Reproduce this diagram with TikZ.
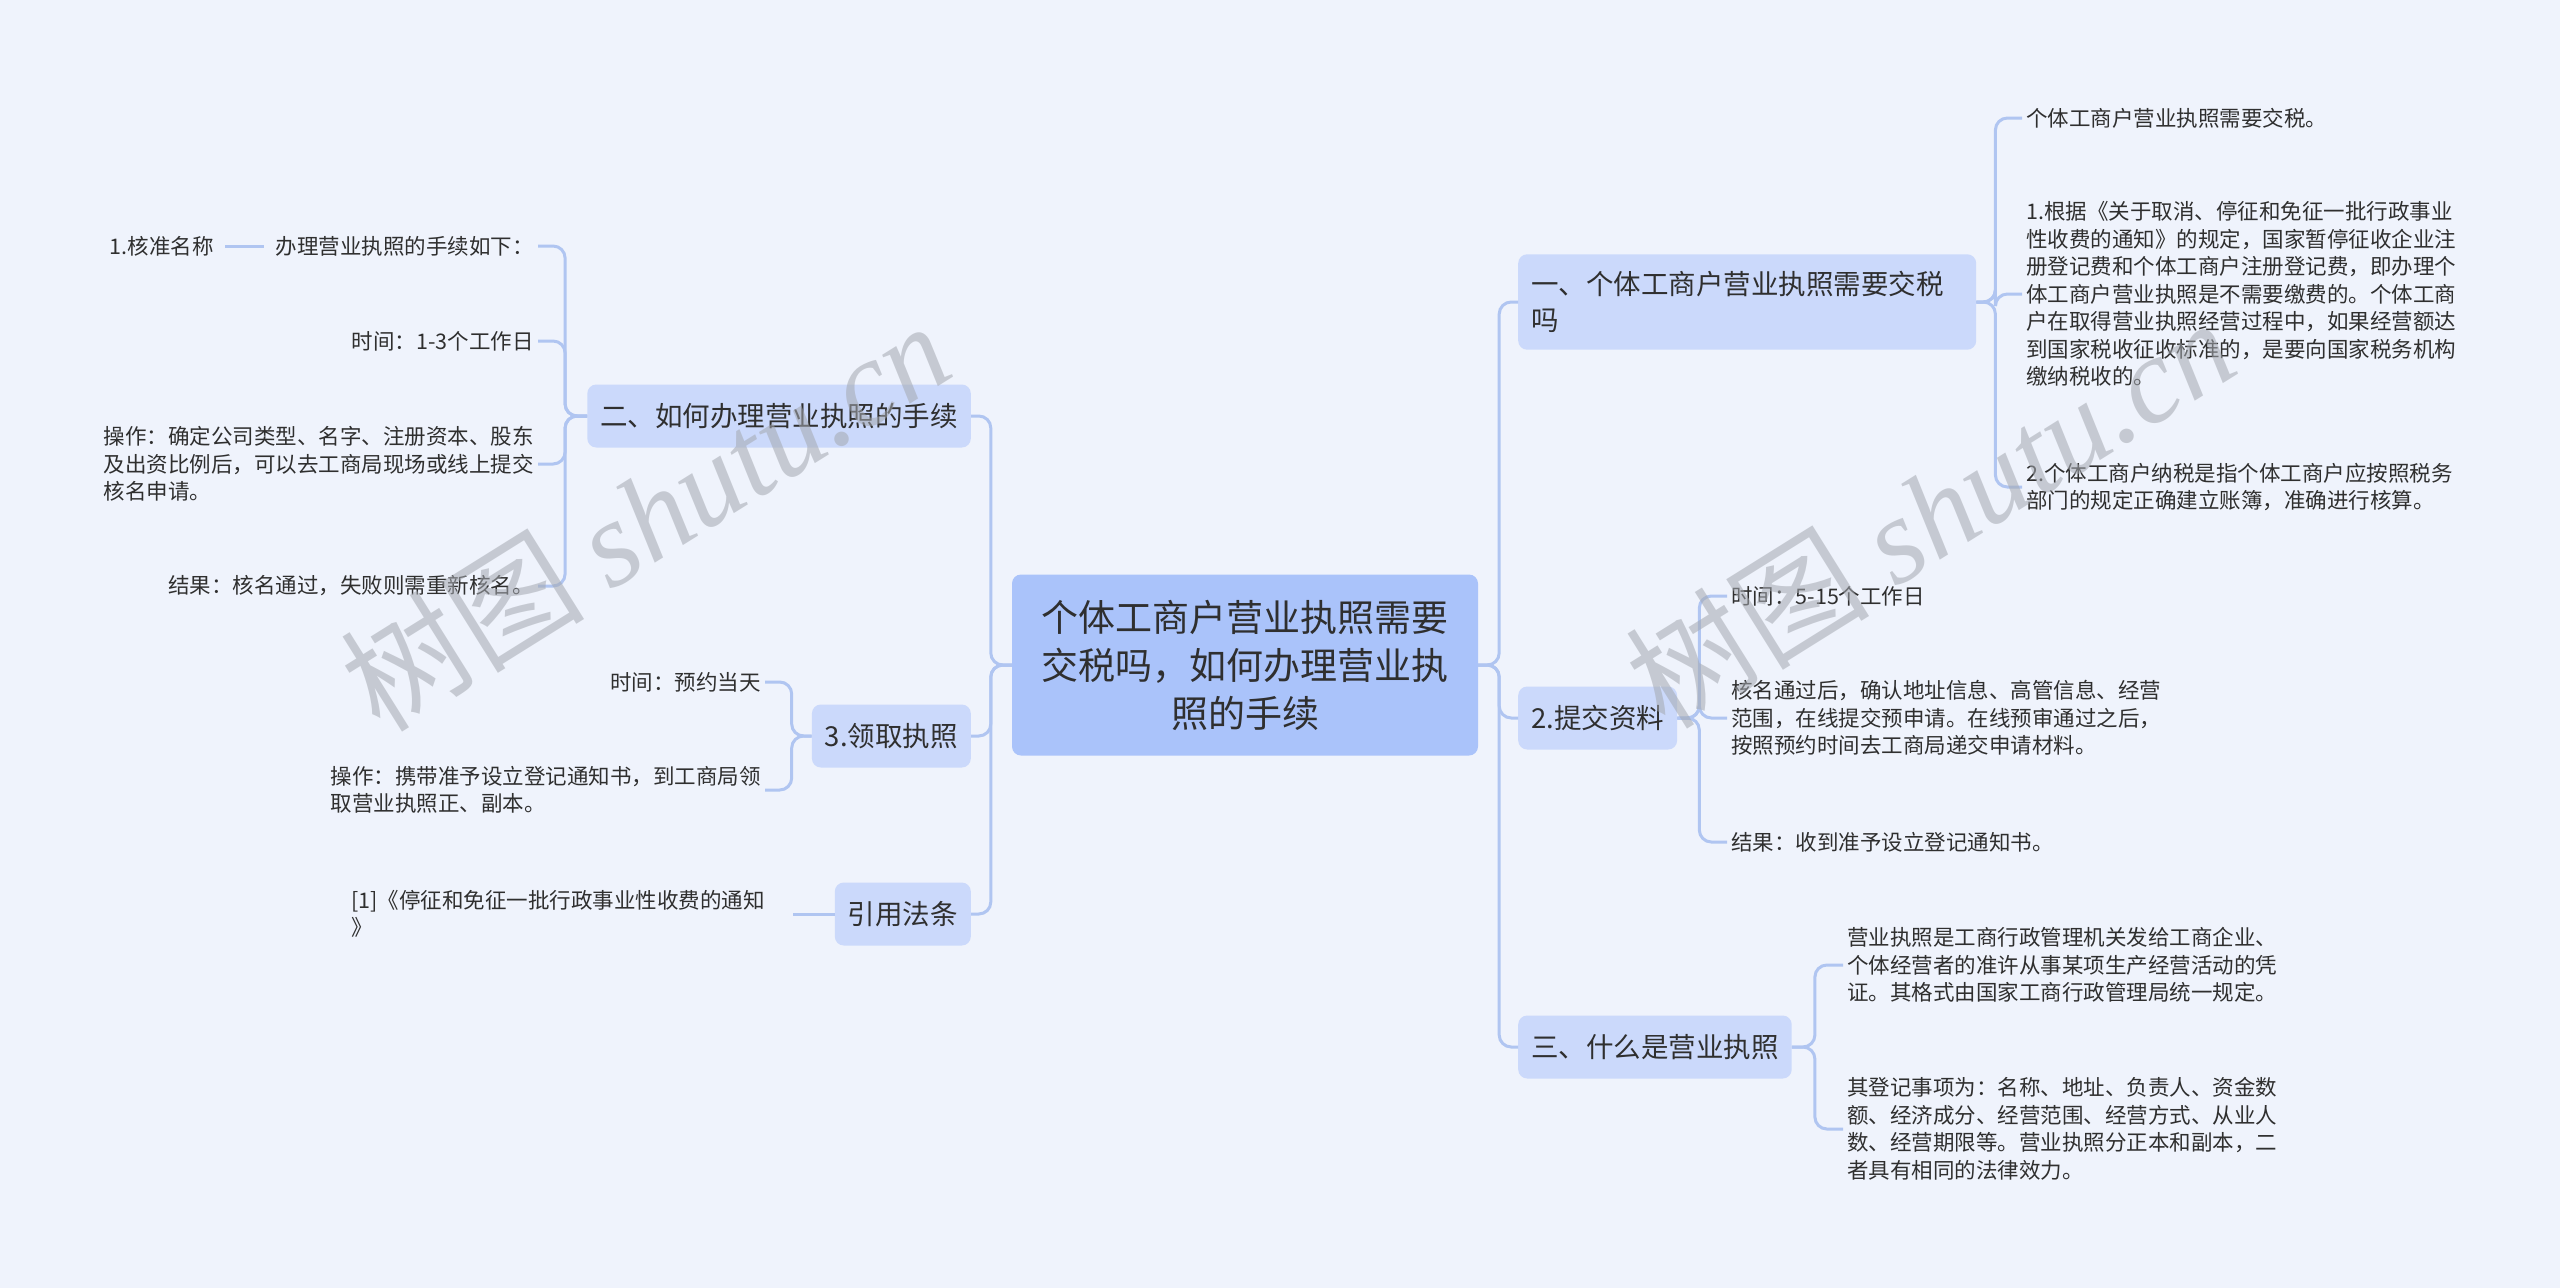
\documentclass[tikz,border=0pt]{standalone}
\usepackage{fontspec}
\setmainfont{Noto Sans CJK SC}
\newfontfamily\wmlatin{Liberation Serif}
\usepackage{tikz}
\usetikzlibrary{positioning}
\definecolor{bgcol}{HTML}{EFF3FC}
\definecolor{rootcol}{HTML}{AAC3FA}
\definecolor{subcol}{HTML}{CBD9FB}
\definecolor{linecol}{HTML}{B0C5F1}
\definecolor{txtcol}{HTML}{2F2F2F}
\definecolor{wmcol}{HTML}{A4A8B0}

\begin{document}
\begin{tikzpicture}[x=1pt,y=-1pt,
    root/.style={fill=rootcol, rounded corners=9pt, align=center, text=txtcol,
        font=\fontsize{37}{48}\selectfont, minimum width=466pt, minimum height=181pt},
    sub/.style={fill=subcol, rounded corners=9pt, text=txtcol,
        font=\fontsize{27.5}{36}\selectfont, inner xsep=13pt, minimum height=63pt},
    leaf/.style={text=txtcol, align=left, font=\fontsize{21.5}{27.5}\selectfont, inner sep=4pt},
    link/.style={draw=linecol, line width=3pt, rounded corners=12pt},
    wm/.style={text=wmcol, opacity=0.55, rotate=32, font=\fontsize{122}{122}\selectfont}]
        \fill[bgcol] (0,0) rectangle (2560,1288);
        \useasboundingbox (0,0) rectangle (2560,1288);

        % centre
        \node[root] (root) at (1245,665) {个体工商户营业执照需要\\交税吗，如何办理营业执\\照的手续};

        % right side
        \node[sub, text width=432pt, align=left, inner ysep=17pt, anchor=west] (b1) at (1518,302) {一、个体工商户营业执照需要交税\\吗};
        \node[sub, anchor=west] (b2) at (1518,718) {2.提交资料};
        \node[sub, anchor=west] (b3) at (1518,1047) {三、什么是营业执照};

        \node[leaf, anchor=west] (a1) at (2022,118) {个体工商户营业执照需要交税。};
        \node[leaf, anchor=west] (a2) at (2022,294) {1.根据《关于取消、停征和免征一批行政事业\\性收费的通知》的规定，国家暂停征收企业注\\册登记费和个体工商户注册登记费，即办理个\\体工商户营业执照是不需要缴费的。个体工商\\户在取得营业执照经营过程中，如果经营额达\\到国家税收征收标准的，是要向国家税务机构\\缴纳税收的。};
        \node[leaf, anchor=west] (a3) at (2022,487) {2.个体工商户纳税是指个体工商户应按照税务\\部门的规定正确建立账簿，准确进行核算。};

        \node[leaf, anchor=west] (s1) at (1727,596) {时间：5-15个工作日};
        \node[leaf, anchor=west] (s2) at (1727,718) {核名通过后，确认地址信息、高管信息、经营\\范围，在线提交预申请。在线预审通过之后，\\按照预约时间去工商局递交申请材料。};
        \node[leaf, anchor=west] (s3) at (1727,842) {结果：收到准予设立登记通知书。};

        \node[leaf, anchor=west] (c1) at (1843,965) {营业执照是工商行政管理机关发给工商企业、\\个体经营者的准许从事某项生产经营活动的凭\\证。其格式由国家工商行政管理局统一规定。};
        \node[leaf, anchor=west] (c2) at (1843,1129) {其登记事项为：名称、地址、负责人、资金数\\额、经济成分、经营范围、经营方式、从业人\\数、经营期限等。营业执照分正本和副本，二\\者具有相同的法律效力。};

        % left side
        \node[sub, anchor=east] (l1) at (971,416) {二、如何办理营业执照的手续};
        \node[sub, anchor=east] (l2) at (971,736) {3.领取执照};
        \node[sub, anchor=east] (l3) at (971,914) {引用法条};

        \node[leaf, anchor=east] (d1) at (538,246) {办理营业执照的手续如下：};
        \node[leaf, anchor=east] (n1) at (218,246) {1.核准名称};
        \node[leaf, anchor=east] (d2) at (538,341) {时间：1-3个工作日};
        \node[leaf, anchor=east] (d3) at (538,464) {操作：确定公司类型、名字、注册资本、股东\\及出资比例后，可以去工商局现场或线上提交\\核名申请。};
        \node[leaf, anchor=east] (d4) at (538,586) {结果：核名通过，失败则需重新核名。};

        \node[leaf, anchor=east] (e1) at (765,682) {时间：预约当天};
        \node[leaf, anchor=east] (e2) at (765,790) {操作：携带准予设立登记通知书，到工商局领\\取营业执照正、副本。};

        \node[leaf, text width=438pt, anchor=west] (f1) at (347,914) {[1]《停征和免征一批行政事业性收费的通知\\》};

        % connectors
        \foreach \n in {b1,b2,b3}
            \draw[link] (root.east) -- ++(21,0) |- (\n.west);
        \foreach \n in {l1,l2,l3}
            \draw[link] (root.west) -- ++(-21,0) |- (\n.east);
        \foreach \n in {a1,a2,a3}
            \draw[link] (b1.east) -- ++(19,0) |- (\n.west);
        \foreach \n in {s1,s2,s3}
            \draw[link] (b2.east) -- ++(22,0) |- (\n.west);
        \foreach \n in {c1,c2}
            \draw[link] (b3.east) -- ++(23,0) |- (\n.west);
        \foreach \n in {d1,d2,d3,d4}
            \draw[link] (l1.west) -- ++(-22,0) |- (\n.east);
        \foreach \n in {e1,e2}
            \draw[link] (l2.west) -- ++(-20,0) |- (\n.east);
        \draw[link] (l3.west) -- (f1.east);
        \draw[link, shorten <=8pt, shorten >=7pt] (d1.west) -- (n1.east);

        % watermarks
        \node[wm] (wmL) at (645,515) {树图 {\wmlatin\itshape shutu.cn}};
        \node[wm] (wmR) at (1930,512) {树图 {\wmlatin\itshape shutu.cn}};
    \end{tikzpicture}
\end{document}
